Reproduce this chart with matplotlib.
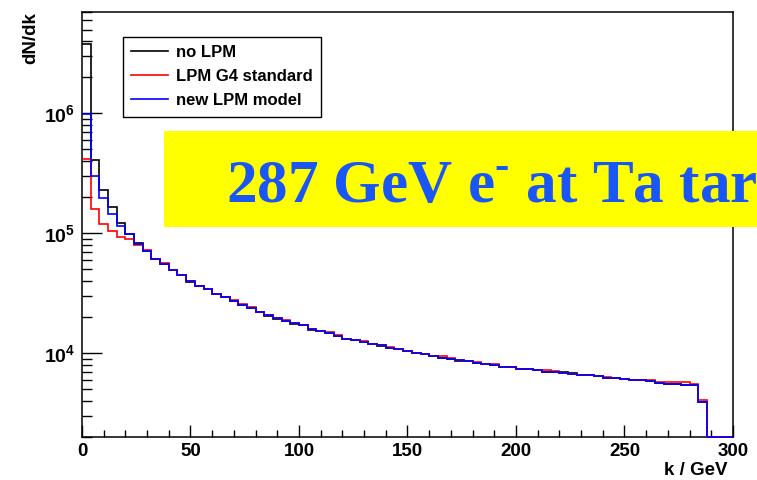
#%% Bibliotecas

import numpy as np
import matplotlib.pyplot as plt
from matplotlib.patches import Rectangle
from matplotlib.ticker import MultipleLocator, NullFormatter, LogLocator

#%% Dados (bins de 4 GeV)

largura_bin = 4
k_max = 300
bordas = np.arange(0, k_max + largura_bin, largura_bin)

# no LPM
sem_lpm = [3.78e6, 4.05e5, 2.31e5, 1.64e5, 1.22e5, 9.9e4, 8.3e4, 7.1e4, 6.1e4, 5.5e4,
           4.95e4, 4.45e4, 3.95e4, 3.62e4, 3.4e4, 3.12e4, 2.92e4, 2.72e4, 2.51e4, 2.36e4,
           2.21e4, 2.05e4, 1.94e4, 1.85e4, 1.75e4, 1.71e4, 1.57e4, 1.53e4, 1.465e4, 1.40e4,
           1.325e4, 1.28e4, 1.25e4, 1.19e4, 1.15e4, 1.10e4, 1.085e4, 1.045e4, 1.01e4, 9.78e3,
           9.55e3, 9.2e3, 8.95e3, 8.6e3, 8.6e3, 8.3e3, 8.15e3, 7.92e3, 7.6e3, 7.68e3,
           7.38e3, 7.35e3, 7.22e3, 7.03e3, 6.95e3, 6.95e3, 6.78e3, 6.56e3, 6.52e3, 6.43e3,
           6.25e3, 6.18e3, 6.04e3, 6.0e3, 5.96e3, 5.88e3, 5.6e3, 5.56e3, 5.58e3, 5.45e3,
           5.43e3, 3.95e3, 0, 0, 0]

# LPM G4 standard
lpm_g4 = [4.2e5, 1.58e5, 1.19e5, 1.04e5, 9.3e4, 8.9e4, 8.0e4, 7.3e4, 6.1e4, 5.65e4,
          4.95e4, 4.45e4, 4.0e4, 3.62e4, 3.4e4, 3.12e4, 2.92e4, 2.8e4, 2.58e4, 2.42e4,
          2.21e4, 2.08e4, 1.96e4, 1.9e4, 1.77e4, 1.71e4, 1.59e4, 1.53e4, 1.5e4, 1.43e4,
          1.325e4, 1.28e4, 1.27e4, 1.20e4, 1.16e4, 1.13e4, 1.085e4, 1.045e4, 1.01e4, 9.78e3,
          9.55e3, 9.4e3, 9.1e3, 8.75e3, 8.6e3, 8.45e3, 8.15e3, 8.05e3, 7.7e3, 7.68e3,
          7.38e3, 7.35e3, 7.22e3, 7.2e3, 7.1e3, 6.8e3, 6.72e3, 6.56e3, 6.52e3, 6.45e3,
          6.3e3, 6.25e3, 6.04e3, 6.0e3, 5.96e3, 6.0e3, 5.75e3, 5.7e3, 5.7e3, 5.7e3,
          5.5e3, 4.06e3, 0, 0, 0]

# new LPM model
lpm_novo = [9.8e5, 2.99e5, 1.96e5, 1.46e5, 1.16e5, 9.8e4, 8.2e4, 7.1e4, 6.1e4, 5.5e4,
            4.95e4, 4.45e4, 4.0e4, 3.62e4, 3.4e4, 3.12e4, 2.92e4, 2.72e4, 2.51e4, 2.36e4,
            2.21e4, 2.08e4, 1.96e4, 1.85e4, 1.77e4, 1.71e4, 1.59e4, 1.53e4, 1.465e4, 1.40e4,
            1.325e4, 1.28e4, 1.25e4, 1.20e4, 1.16e4, 1.10e4, 1.085e4, 1.045e4, 1.01e4, 9.78e3,
            9.55e3, 9.2e3, 8.95e3, 8.75e3, 8.6e3, 8.3e3, 8.15e3, 7.92e3, 7.7e3, 7.68e3,
            7.38e3, 7.35e3, 7.22e3, 7.03e3, 6.95e3, 6.8e3, 6.72e3, 6.56e3, 6.52e3, 6.43e3,
            6.2e3, 6.18e3, 6.04e3, 6.0e3, 5.96e3, 5.88e3, 5.6e3, 5.56e3, 5.58e3, 5.45e3,
            5.43e3, 3.88e3, 0, 0, 0]

series = [(sem_lpm, 'black', 'no LPM'),
          (lpm_g4, 'red', 'LPM G4 standard'),
          (lpm_novo, 'blue', 'new LPM model')]

y_min, y_max = 2000, 7e6

#%% Figura

plt.rcParams['font.family'] = 'Liberation Sans'
plt.rcParams['font.weight'] = 'bold'
plt.rcParams['mathtext.fontset'] = 'custom'
plt.rcParams['mathtext.bf'] = 'Liberation Sans:bold'
plt.rcParams['mathtext.rm'] = 'Liberation Serif:bold'

fig = plt.figure(figsize=(7.57, 4.80), dpi=100)
ax = fig.add_axes([0.1083, 0.0896, 0.86, 0.8854])

for valores, cor, nome in series:
    v = np.clip(np.array(valores, dtype=float), y_min, None)
    ax.stairs(v, bordas, color=cor, linewidth=1.2, label=nome,
              baseline=None, clip_on=False, zorder=3)

ax.set_yscale('log')
ax.set_xlim(0, k_max)
ax.set_ylim(y_min, y_max)

ax.xaxis.set_major_locator(MultipleLocator(50))
ax.xaxis.set_minor_locator(MultipleLocator(10))
ax.set_yticks([1e4, 1e5, 1e6])
ax.set_yticklabels([r'$\mathbf{10^{4}}$', r'$\mathbf{10^{5}}$', r'$\mathbf{10^{6}}$'])
ax.yaxis.set_minor_locator(LogLocator(base=10, subs=np.arange(2, 10)))
ax.yaxis.set_minor_formatter(NullFormatter())

ax.tick_params(which='both', direction='in', top=False, right=False, width=1.0)
ax.tick_params(axis='x', which='major', length=9, labelsize=13.5, pad=4)
ax.tick_params(axis='x', which='minor', length=4.8)
ax.tick_params(axis='y', which='major', length=14.4, labelsize=14, pad=5)
ax.tick_params(axis='y', which='minor', length=7.2)
for s in ax.spines.values():
    s.set_linewidth(1.1)

ax.set_xlabel('k / GeV', fontsize=13.5, fontweight='bold', loc='right')
ax.xaxis.set_label_coords(0.992, -0.058)
ax.set_ylabel('dN/dk', fontsize=13.5, fontweight='bold', loc='top')
ax.yaxis.set_label_coords(-0.066, 1.0)

leg = ax.legend(loc='upper left', bbox_to_anchor=(0.0625, 0.942), borderaxespad=0,
                fancybox=False, edgecolor='black', framealpha=1,
                prop={'weight': 'bold', 'size': 12}, handlelength=2.2,
                handletextpad=0.5, labelspacing=0.55, borderpad=0.5)
leg.get_frame().set_linewidth(1.0)

#%% Caixa amarela com o titulo (cortado na borda, como no original)

caixa = Rectangle((164 / 757, 1 - 227 / 480), 1.0, 96 / 480, transform=fig.transFigure,
                  facecolor='#ffff00', edgecolor='none', zorder=10)
fig.add_artist(caixa)
fig.text(226 / 757, 1 - 202 / 480, '287 GeV e$^{\\mathrm{\u2010}}$ at Ta target',
         family='Liberation Serif', fontweight='bold', fontsize=44,
         color='#1a56f5', va='baseline', ha='left', zorder=11)

fig.savefig('out.png', dpi=100)
